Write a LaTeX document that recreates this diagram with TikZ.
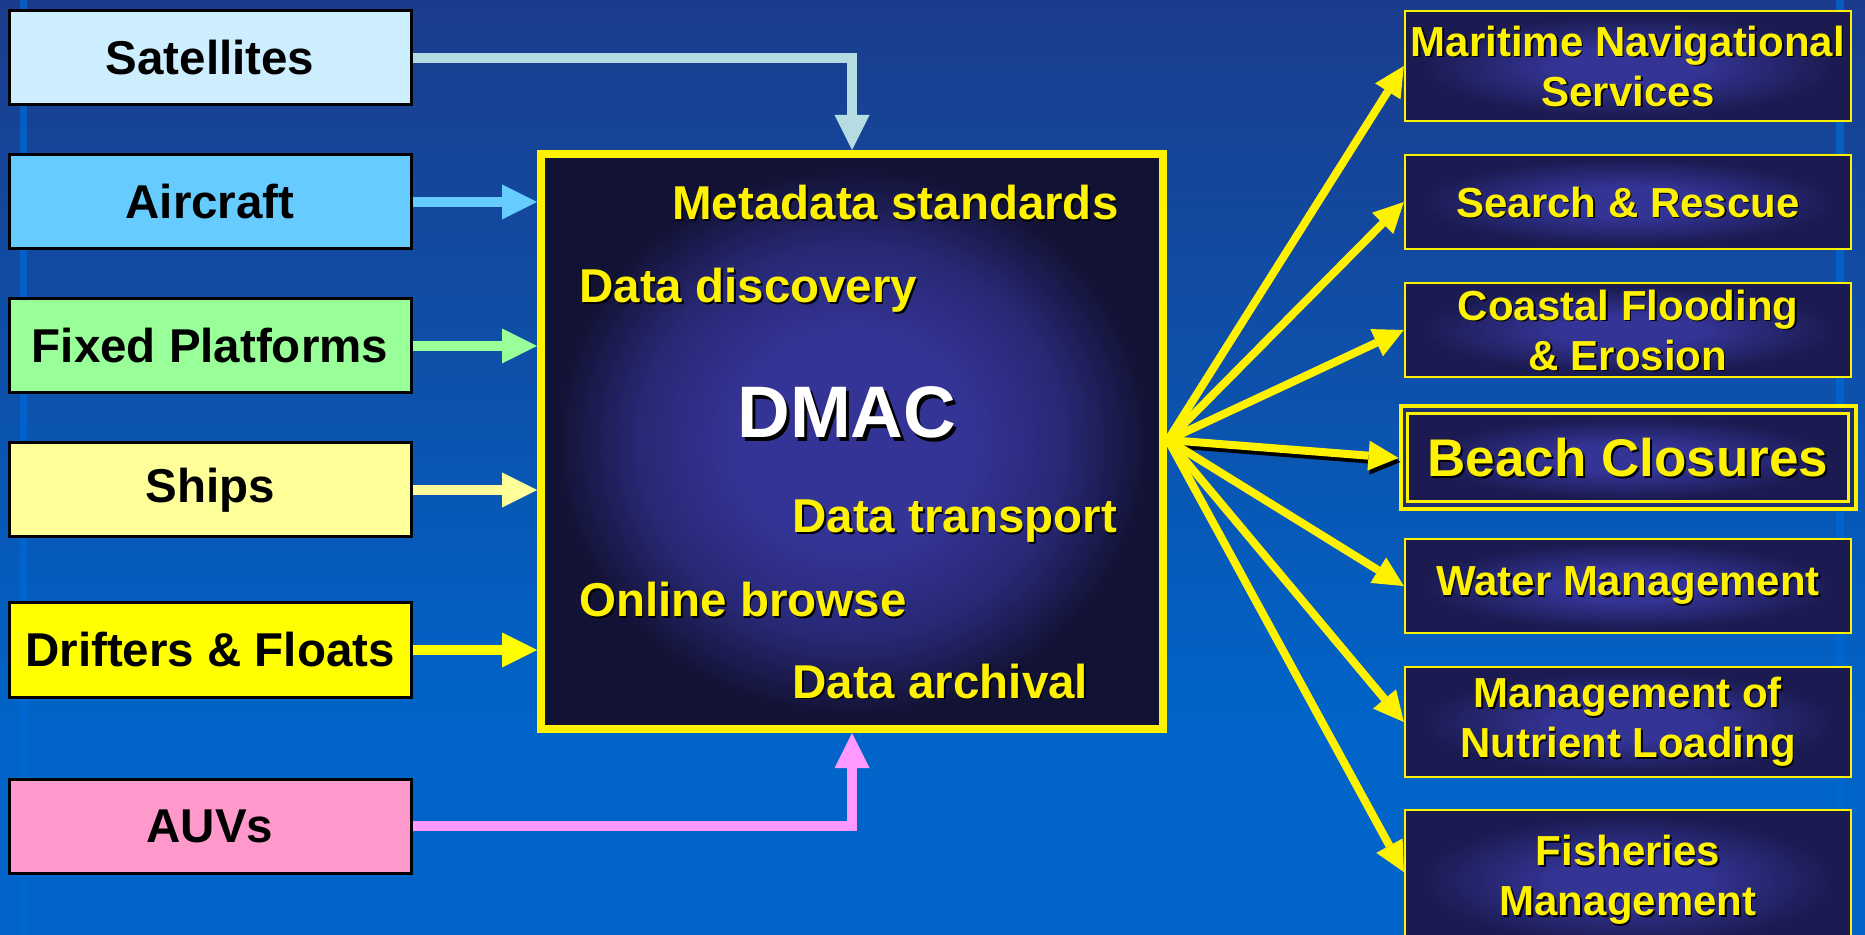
\documentclass[tikz,border=0pt]{standalone}
\usepackage{fontspec}
\setmainfont{Liberation Sans}
\usetikzlibrary{arrows.meta}
\definecolor{bgtop}{RGB}{27,60,140}
\definecolor{bgbot}{RGB}{0,100,200}
\definecolor{stripe}{RGB}{0,104,212}
\definecolor{satc}{RGB}{204,238,255}
\definecolor{satarr}{RGB}{180,220,226}
\definecolor{airc}{RGB}{102,204,255}
\definecolor{fixc}{RGB}{153,255,153}
\definecolor{shipc}{RGB}{255,255,153}
\definecolor{drifc}{RGB}{255,255,0}
\definecolor{auvc}{RGB}{255,153,204}
\definecolor{auvarr}{RGB}{255,153,255}
\definecolor{glowc}{RGB}{52,52,150}
\definecolor{glowm}{RGB}{40,40,118}
\definecolor{glowe}{RGB}{18,18,52}
\definecolor{rglowe}{RGB}{27,27,82}
\definecolor{beachgap}{RGB}{30,50,110}
\pgfdeclareradialshading{dglow}{\pgfpoint{0bp}{0bp}}{color(0bp)=(glowc); color(9bp)=(glowc); color(17bp)=(glowm); color(24bp)=(glowe); color(50bp)=(glowe)}
\pgfdeclareradialshading{rglow}{\pgfpoint{0bp}{0bp}}{color(0bp)=(glowc); color(8bp)=(glowc); color(23bp)=(rglowe); color(50bp)=(rglowe)}
\newcommand{\shadowed}[5]{% name, style, coordinate, text, offset
  \node[#2, text=black, xshift=#5, yshift=-#5] (#1-sh) at #3 {#4};
  \node[#2] (#1) at #3 {#4};}
\begin{document}
\begin{tikzpicture}[x=0.5pt,y=-0.5pt,
  inbox/.style={draw=black, line width=1.5pt, minimum width=201pt, minimum height=47pt, inner sep=0pt,
    font=\fontsize{23.75}{28}\selectfont\bfseries, text=black},
  outbox/.style={draw=yellow, line width=1.2pt, shading=rglow, minimum width=223pt, inner sep=0pt},
  outtext/.style={inner sep=0pt, align=center, font=\fontsize{21}{25}\selectfont\bfseries, text=yellow},
  beachtext/.style={inner sep=0pt, font=\fontsize{26.5}{30}\selectfont\bfseries, text=yellow},
  dtext/.style={anchor=base west, inner sep=0pt, font=\fontsize{23.75}{28}\selectfont\bfseries, text=yellow},
  dtitle/.style={anchor=base west, inner sep=0pt, font=\fontsize{36.5}{40}\selectfont\bfseries, text=white},
  inarrow/.style={line width=5pt, -{Triangle[length=17.5pt,width=17.5pt,line width=0pt]}},
  yarrow/.style={draw=yellow, line width=4pt, -{Triangle[length=15pt,width=15pt,line width=0pt]}}]
\useasboundingbox (0,0) rectangle (1865,935);
\clip (0,0) rectangle (1865,935);
% background
\shade[top color=bgtop, bottom color=bgbot] (0,0) rectangle (1865,720);
\fill[bgbot] (0,719) rectangle (1865,935);
\fill[stripe, opacity=.75] (20,0) rectangle (27,935);
\fill[stripe, opacity=.75] (1836,0) rectangle (1844,935);
% input boxes
\node[inbox, fill=satc] (sat) at (210,58) {Satellites};
\node[inbox, fill=airc] (air) at (210,202) {Aircraft};
\node[inbox, fill=fixc] (fix) at (210,346) {Fixed Platforms};
\node[inbox, fill=shipc] (ship) at (210,490) {Ships};
\node[inbox, fill=drifc] (drif) at (210,650) {Drifters \& Floats};
\node[inbox, fill=auvc] (auv) at (210,826) {AUVs};
% DMAC box
\node[draw=yellow, line width=4pt, shading=dglow, minimum width=311pt, minimum height=287.5pt, inner sep=0pt] (dmac) at (852,441.5) {};
\shadowed{md}{dtext}{(672,220)}{Metadata standards}{0.8pt}
\shadowed{dd}{dtext}{(579,303)}{Data discovery}{0.8pt}
\shadowed{dm}{dtitle}{(737,438)}{DMAC}{1.6pt}
\shadowed{dt}{dtext}{(792,533)}{Data transport}{0.8pt}
\shadowed{ob}{dtext}{(579,617)}{Online browse}{0.8pt}
\shadowed{da}{dtext}{(792,698)}{Data archival}{0.8pt}
% input arrows
\draw[inarrow, satarr] (sat.east) -| (dmac.north);
\draw[inarrow, airc] (air.east) -- (air.east -| dmac.west);
\draw[inarrow, fixc] (fix.east) -- (fix.east -| dmac.west);
\draw[inarrow, shipc] (ship.east) -- (ship.east -| dmac.west);
\draw[inarrow, drifc] (drif.east) -- (drif.east -| dmac.west);
\draw[inarrow, auvarr] (auv.east) -| (dmac.south);
% output boxes
\node[outbox, minimum height=55pt] (mar) at (1628,66) {};
\shadowed{mart}{outtext}{(mar.center)}{Maritime Navigational\\Services}{0.7pt}
\node[outbox, minimum height=47pt] (sar) at (1628,202) {};
\shadowed{sart}{outtext}{(sar.center)}{Search \& Rescue}{0.7pt}
\node[outbox, minimum height=47pt] (coa) at (1628,330) {};
\shadowed{coat}{outtext}{(coa.center)}{Coastal Flooding\\\& Erosion}{0.7pt}
\node[draw=yellow, line width=2pt, fill=beachgap, minimum width=227.5pt, minimum height=51.5pt, inner sep=0pt] (beach) at (1628,458) {};
\node[outbox, line width=1.5pt, minimum width=220.5pt, minimum height=44pt] (beachin) at (1628,458) {};
\shadowed{beacht}{beachtext}{(beachin.center)}{Beach Closures}{0.9pt}
\node[outbox, minimum height=47pt] (wat) at (1628,586) {};
\shadowed{watt}{outtext}{(wat.center)}{Water Management}{0.7pt}
\node[outbox, minimum height=55pt] (nut) at (1628,722) {};
\shadowed{nutt}{outtext}{(nut.center)}{Management of\\Nutrient Loading}{0.7pt}
\node[outbox, minimum height=70pt] (fis) at (1628,880) {};
\shadowed{fist}{outtext}{(fis.center)}{Fisheries\\Management}{0.7pt}
% output arrows
\coordinate (hub) at (1168,440);
\draw[yarrow] (hub) -- (mar.west);
\draw[yarrow] (hub) -- (sar.west);
\draw[yarrow] (hub) -- (coa.west);
\draw[yarrow, draw=black] ([shift={(2,4)}]hub) -- ([shift={(2,4)}]beach.west);
\draw[yarrow] (hub) -- (beach.west);
\draw[yarrow] (hub) -- (wat.west);
\draw[yarrow] (hub) -- (nut.west);
\draw[yarrow] (hub) -- (fis.west |- 0,872);
\end{tikzpicture}
\end{document}
